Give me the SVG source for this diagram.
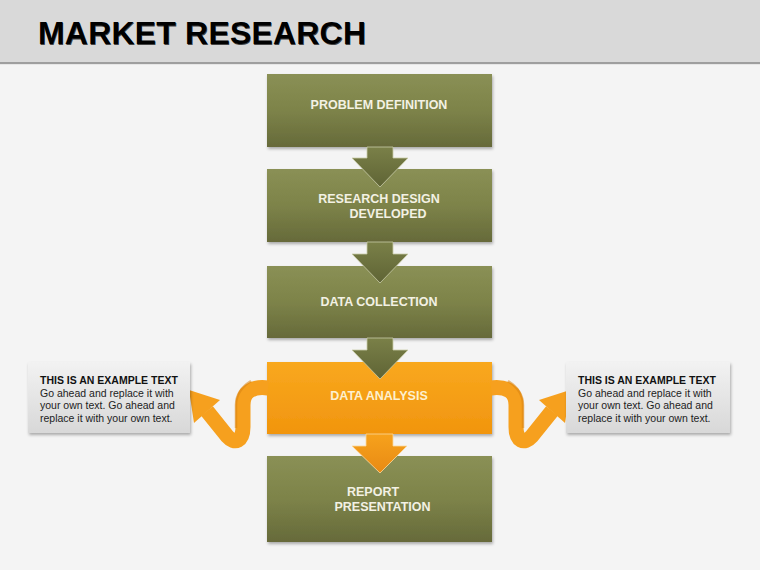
<svg xmlns="http://www.w3.org/2000/svg" width="760" height="570" viewBox="0 0 760 570">
<defs>
<linearGradient id="gGreen" x1="0" y1="0" x2="0" y2="1">
<stop offset="0" stop-color="#8a9055"/>
<stop offset="0.5" stop-color="#7d8349"/>
<stop offset="1" stop-color="#666a3a"/>
</linearGradient>
<linearGradient id="gOrange" x1="0" y1="0" x2="0" y2="1">
<stop offset="0" stop-color="#f9a81e"/>
<stop offset="1" stop-color="#f1950e"/>
</linearGradient>
<linearGradient id="gArrowG" x1="0" y1="0" x2="0" y2="1">
<stop offset="0" stop-color="#7a8048"/>
<stop offset="1" stop-color="#5f6435"/>
</linearGradient>
<linearGradient id="gArrowO" x1="0" y1="0" x2="0" y2="1">
<stop offset="0" stop-color="#f7a21c"/>
<stop offset="1" stop-color="#e88a14"/>
</linearGradient>
<linearGradient id="gNote" x1="0" y1="0" x2="0" y2="1">
<stop offset="0" stop-color="#f2f2f2"/>
<stop offset="1" stop-color="#d8d8d8"/>
</linearGradient>
<filter id="shadow" x="-10%" y="-10%" width="125%" height="130%">
<feDropShadow dx="1" dy="2" stdDeviation="1.5" flood-color="#000" flood-opacity="0.3"/>
</filter>
<g id="ribbon">
<path d="M268,388 C252,386 243,392 243,405 L243,427 C243,441 235,445 227,436 L207,411" fill="none" stroke="#f6a01e" stroke-width="15"/>
<path d="M251,381 C243,386 236,394 236,405 L236,428" fill="none" stroke="#d98312" stroke-width="2.5" opacity="0.55"/>
<polygon points="189,390 220,400 194,423" fill="#f6a01e"/>
</g>
</defs>
<style>
.box-text{font-family:"Liberation Sans",Arial,sans-serif;font-weight:bold;font-size:12.5px;fill:#f3f1e4;text-anchor:middle}
.note-h{font-family:"Liberation Sans",Arial,sans-serif;font-weight:bold;font-size:10.5px;fill:#111}
.note-t{font-family:"Liberation Sans",Arial,sans-serif;font-size:10.5px;fill:#222}
</style>
<rect x="0" y="0" width="760" height="570" fill="#f4f4f4"/>
<g id="header">
<rect x="0" y="0" width="760" height="62" fill="#d9d9d9"/>
<rect x="0" y="62" width="760" height="2" fill="#9e9e9e"/>
<rect x="0" y="64" width="760" height="1" fill="#e6e6e6"/>
<text x="38.6" y="44.6" font-family="Liberation Sans,Arial,sans-serif" font-weight="bold" font-size="32" fill="#444" textLength="328">MARKET RESEARCH</text>
<text x="38" y="44" font-family="Liberation Sans,Arial,sans-serif" font-weight="bold" font-size="32" fill="#000" textLength="328">MARKET RESEARCH</text>
</g>
<g id="node1">
<rect x="267" y="74" width="225" height="73" fill="url(#gGreen)" filter="url(#shadow)"/>
<text class="box-text" x="379" y="109">PROBLEM DEFINITION</text>
</g>
<g id="node2">
<rect x="267" y="169" width="225" height="73" fill="url(#gGreen)" filter="url(#shadow)"/>
<text class="box-text" x="379" y="203">RESEARCH DESIGN</text>
<text class="box-text" x="388" y="218">DEVELOPED</text>
</g>
<g id="node3">
<rect x="267" y="266" width="225" height="72" fill="url(#gGreen)" filter="url(#shadow)"/>
<text class="box-text" x="379" y="306">DATA COLLECTION</text>
</g>
<g id="node4">
<rect x="267" y="362" width="225" height="72" fill="url(#gOrange)" filter="url(#shadow)"/>
<text class="box-text" x="379" y="400" style="fill:#fdf0cf">DATA ANALYSIS</text>
</g>
<g id="node5">
<rect x="267" y="456" width="225" height="86" fill="url(#gGreen)" filter="url(#shadow)"/>
<text class="box-text" x="373" y="496">REPORT</text>
<text class="box-text" x="382.5" y="511">PRESENTATION</text>
</g>
<g id="connectors">
<polygon points="367,147 393,147 393,158 408,158 380,187 352,158 367,158" fill="url(#gArrowG)" stroke="#c9cba8" stroke-width="0.8"/>
<polygon points="367,242 393,242 393,254 408,254 380,283 352,254 367,254" fill="url(#gArrowG)" stroke="#c9cba8" stroke-width="0.8"/>
<polygon points="367,338 393,338 393,350 408,350 380,379 352,350 367,350" fill="url(#gArrowG)" stroke="#c9cba8" stroke-width="0.8"/>
<polygon points="366,434 393,434 393,446 407,446 380,473 352,446 366,446" fill="url(#gArrowO)" stroke="#fbd9a0" stroke-width="0.8"/>
<use href="#ribbon"/>
<use href="#ribbon" transform="matrix(-1,0,0,1,759,0)"/>
</g>
<g id="note-left">
<rect x="28" y="362" width="162" height="71" fill="url(#gNote)" filter="url(#shadow)"/>
<text class="note-h" x="40" y="384">THIS IS AN EXAMPLE TEXT</text>
<text class="note-t" x="40" y="396.5">Go ahead and replace it with</text>
<text class="note-t" x="40" y="409">your own text. Go ahead and</text>
<text class="note-t" x="40" y="421.5">replace it with your own text.</text>
</g>
<g id="note-right">
<rect x="566" y="362" width="164" height="71" fill="url(#gNote)" filter="url(#shadow)"/>
<text class="note-h" x="578" y="384">THIS IS AN EXAMPLE TEXT</text>
<text class="note-t" x="578" y="396.5">Go ahead and replace it with</text>
<text class="note-t" x="578" y="409">your own text. Go ahead and</text>
<text class="note-t" x="578" y="421.5">replace it with your own text.</text>
</g>
</svg>
